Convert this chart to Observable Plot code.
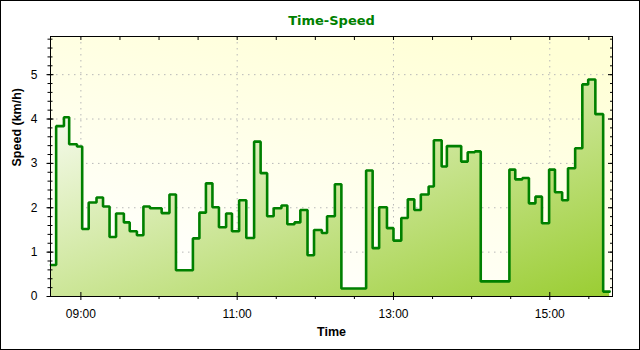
<!DOCTYPE html>
<html>
<head>
<meta charset="utf-8">
<script src="https://cdn.jsdelivr.net/npm/d3@7"></script>
<script src="https://cdn.jsdelivr.net/npm/@observablehq/plot@0.6"></script>
<style>
  body { margin: 0; background: #fff; }
  #chart { position: relative; width: 640px; height: 350px; }
</style>
</head>
<body>
<div id="chart"></div>
<script>
// ---- data ----
const times = ["08:37","08:41","08:47","08:51","08:57","09:01","09:06","09:12","09:17","09:22",
  "09:27","09:33","09:37:30","09:43","09:48","09:53","10:02","10:08","10:13","10:26",
  "10:31","10:36","10:41","10:46","10:51:30","10:56","11:01:30","11:07","11:13","11:18",
  "11:23","11:28","11:34","11:38:30","11:44","11:48:30","11:54","11:59","12:05","12:09",
  "12:15","12:20","12:39","12:44","12:49","12:55","13:00","13:06","13:11","13:16",
  "13:21","13:27","13:31","13:37","13:41","13:52","13:57","14:02:30","14:07","14:29",
  "14:33:30","14:39","14:44","14:49","14:54","14:59:30","15:04","15:09:30","15:14","15:19:30",
  "15:25","15:29:30","15:35","15:41","15:46"];
const speeds = [0.71,3.84,4.04,3.43,3.38,1.52,2.12,2.23,2.03,1.34,
  1.87,1.67,1.47,1.38,2.03,1.99,1.88,2.30,0.59,1.31,
  1.89,2.55,2.01,1.56,1.87,1.47,2.17,1.32,3.49,2.78,
  1.81,1.99,2.05,1.63,1.67,1.95,0.93,1.50,1.43,1.81,
  2.53,0.18,2.84,1.09,2.01,1.54,1.26,1.77,2.19,1.95,
  2.30,2.48,3.52,2.93,3.39,3.04,3.25,3.27,0.34,2.86,
  2.64,2.67,2.10,2.25,1.65,2.86,2.35,2.17,2.89,3.34,
  4.78,4.89,4.11,0.11,0.11];
const majorTimes = ["09:00","11:00","13:00","15:00"];
const minorTimes = ["09:30","10:00","10:30","11:30","12:00","12:30","13:30","14:00","14:30","15:30"];
const yMajor = [0,1,2,3,4,5];
const yDomain = [0, 5.86];
const xDomain = ["08:36:40","15:48:10"];
const titleText = "Time-Speed";
const xLabel = "Time";
const yLabel = "Speed (km/h)";

// ---- helpers ----
const toDate = s => { const [h,m,sec] = s.split(":").map(Number); return new Date(2000,0,1,h,m,sec||0); };
const data = times.map((t,i) => ({time: toDate(t), speed: speeds[i]}));
const majors = majorTimes.map(toDate);
const minors = minorTimes.map(toDate);
const allHalf = majors.concat(minors);
const yMinor = d3.range(0, 5.81, 0.2).map(v => +v.toFixed(1));
const blank = () => "";
const fmt = d3.timeFormat("%H:%M");

const chart = Plot.plot({
  width: 640,
  height: 350,
  marginLeft: 50,
  marginRight: 28,
  marginTop: 36,
  marginBottom: 54,
  style: {fontFamily: "'Liberation Sans', Arial, sans-serif", fontSize: "12px", color: "#000", background: "#fff", overflow: "visible"},
  x: {type: "time", domain: xDomain.map(toDate), axis: null},
  y: {domain: yDomain, axis: null},
  marks: [
    Plot.frame({fill: "url(#bgGrad)"}),
    Plot.gridX(majors, {stroke: "#b8b8b8", strokeOpacity: 1, strokeDasharray: "1.5,4.5"}),
    Plot.gridY([1,2,3,4,5], {stroke: "#b8b8b8", strokeOpacity: 1, strokeDasharray: "1.5,4.5"}),
    Plot.areaY(data, {x: "time", y: "speed", curve: "step-after", fill: "url(#areaGrad)"}),
    Plot.line(data, {x: "time", y: "speed", curve: "step-after", stroke: "#008000", strokeWidth: 2.6, strokeLinejoin: "miter"}),
    Plot.frame({stroke: "#000", strokeWidth: 1}),
    // left ticks (crossing)
    Plot.axisY({ticks: yMajor, tickSize: 7, dx: 3.5, tickFormat: blank, stroke: "#000", label: null}),
    Plot.axisY({ticks: yMinor, tickSize: 5, dx: 2.5, tickFormat: blank, stroke: "#000", label: null}),
    Plot.axisY({ticks: yMajor, tickSize: 0, tickPadding: 13, tickFormat: d => String(d), fontSize: 12, label: null}),
    // right ticks (inward)
    Plot.axisY({anchor: "right", ticks: yMajor, tickSize: 5, dx: -5, tickFormat: blank, stroke: "#000", label: null}),
    Plot.axisY({anchor: "right", ticks: yMinor, tickSize: 3, dx: -3, tickFormat: blank, stroke: "#000", label: null}),
    // bottom ticks
    Plot.axisX({ticks: majors, tickSize: 8, dy: -4, tickFormat: blank, stroke: "#000", label: null}),
    Plot.axisX({ticks: minors, tickSize: 3, tickFormat: blank, stroke: "#000", label: null}),
    Plot.axisX({ticks: majors, tickSize: 0, tickPadding: 13, tickFormat: fmt, fontSize: 12, label: null}),
    // top ticks (inward)
    Plot.axisX({anchor: "top", ticks: allHalf, tickSize: 3, dy: 3, tickFormat: blank, stroke: "#000", label: null}),
    // labels
    Plot.text([xLabel], {frameAnchor: "bottom", dy: 39.5, text: d => d, fontWeight: "bold", fontSize: 12.5, fill: "#000"}),
    Plot.text([yLabel], {frameAnchor: "left", dx: -33.5, rotate: -90, text: d => d, fontWeight: "bold", fontSize: 12.5, fill: "#000"}),
    Plot.text([titleText], {frameAnchor: "top", dy: -21, text: d => d, fontWeight: "bold", fontSize: 13, fontFamily: "'DejaVu Sans', sans-serif", fill: "#008000"})
  ]
});

const defs = d3.select(chart).insert("defs", ":first-child");
const ag = defs.append("linearGradient").attr("id", "areaGrad")
  .attr("x1", 0).attr("y1", 0).attr("x2", 1).attr("y2", 1);
ag.append("stop").attr("offset", "0%").attr("stop-color", "#ffffff");
ag.append("stop").attr("offset", "100%").attr("stop-color", "#9acd32");
const bg = defs.append("linearGradient").attr("id", "bgGrad")
  .attr("x1", 0.25).attr("y1", 1).attr("x2", 0.75).attr("y2", 0);
bg.append("stop").attr("offset", "0%").attr("stop-color", "#ffffff");
bg.append("stop").attr("offset", "100%").attr("stop-color", "#ffffd6");

chart.style.outline = "1px solid #000";
chart.style.outlineOffset = "-1px";
document.getElementById("chart").appendChild(chart);
</script>
</body>
</html>
